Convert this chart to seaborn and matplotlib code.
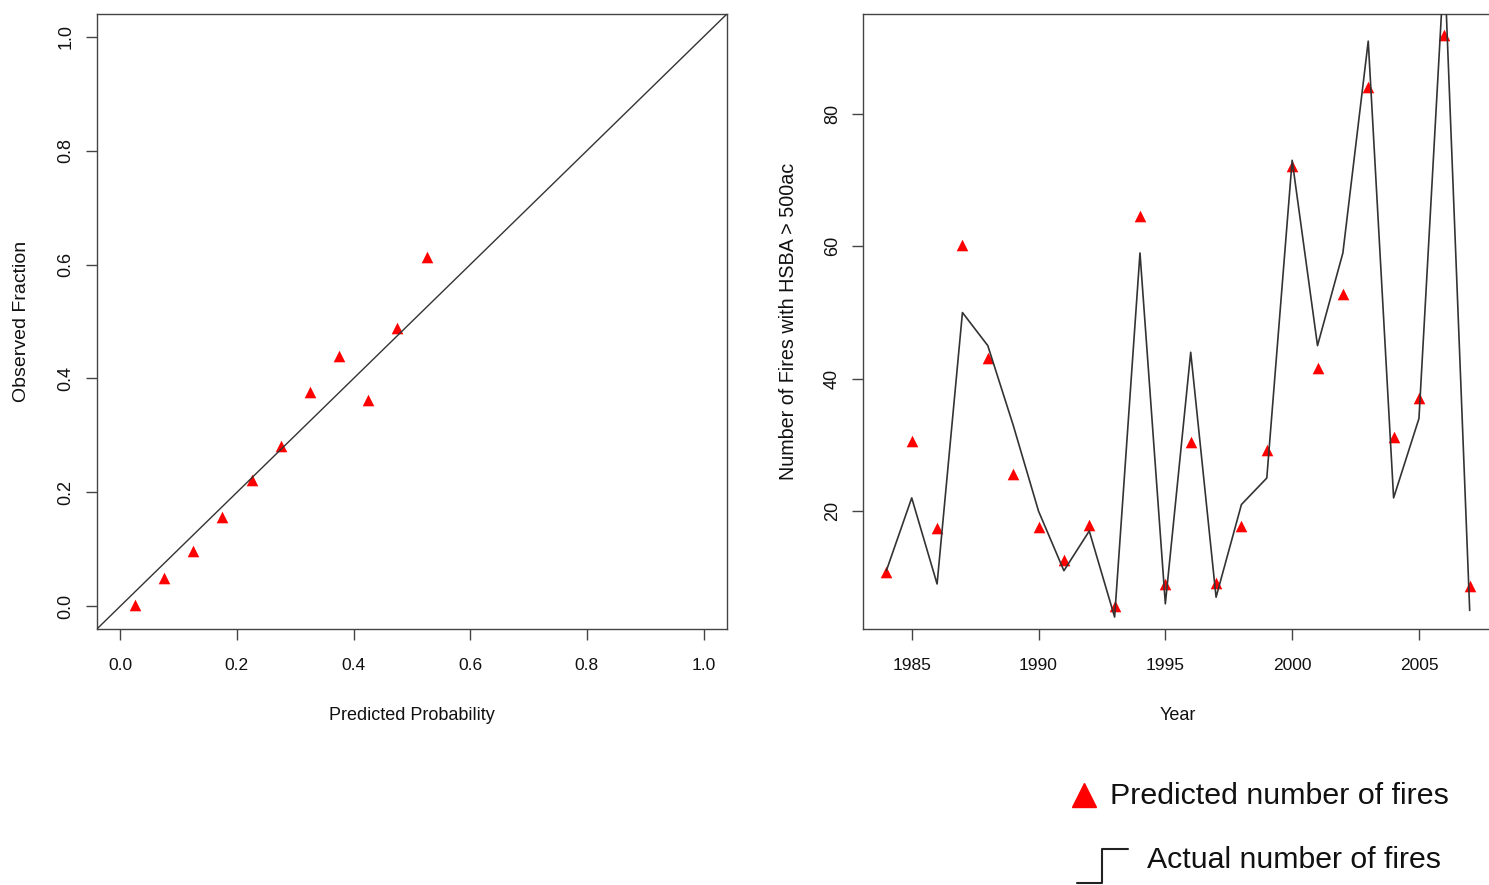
import seaborn as sns
import matplotlib.pyplot as plt
from matplotlib.lines import Line2D

# Left panel: calibration
pred_prob = [0.025, 0.075, 0.125, 0.175, 0.225, 0.275, 0.325, 0.375, 0.425, 0.475, 0.525]
obs_frac = [0.002, 0.049, 0.097, 0.156, 0.221, 0.281, 0.376, 0.439, 0.362, 0.489, 0.613]

# Right panel: fires per year
years = list(range(1984, 2008))
actual_fires = [11, 22, 9, 50, 45, 33, 20, 11, 17, 4, 59, 6,
                44, 7, 21, 25, 73, 45, 59, 91, 22, 34, 103, 5]
predicted_fires = [10.8, 30.6, 17.4, 60.2, 43.1, 25.6, 17.6, 12.6, 17.9, 5.7, 64.6, 9.0,
                   30.4, 9.1, 17.7, 29.2, 72.1, 41.6, 52.8, 84.1, 31.2, 37.1, 91.9, 8.7]

x_ticks_left = [0.0, 0.2, 0.4, 0.6, 0.8, 1.0]
y_ticks_right = [20, 40, 60, 80]
x_ticks_right = [1985, 1990, 1995, 2000, 2005]

sns.set_style("white")
plt.rcParams['font.family'] = ['Liberation Sans', 'DejaVu Sans']

fig = plt.figure(figsize=(14.89, 8.85), dpi=100)
ax1 = fig.add_axes([0.0651, 0.2893, 0.4231, 0.6949])
ax2 = fig.add_axes([0.5796, 0.2893, 0.4231, 0.6949])

edge = '#444444'
for ax in (ax1, ax2):
    for s in ax.spines.values():
        s.set_color(edge)
        s.set_linewidth(1.0)
    ax.tick_params(axis='both', length=8, width=1, color=edge, labelsize=12.5,
                   labelcolor='#111111', direction='out', bottom=True, left=True)
    ax.tick_params(axis='x', pad=13)
    ax.tick_params(axis='y', pad=8, labelrotation=90)

# calibration plot
sns.scatterplot(x=pred_prob, y=obs_frac, ax=ax1, marker='^', color='red',
                s=70, linewidth=0, zorder=2)
ax1.axline((0, 0), slope=1, color='#333333', lw=1.0, zorder=3)
ax1.set_xlim(-0.04, 1.04)
ax1.set_ylim(-0.04, 1.04)
ax1.set_xticks(x_ticks_left)
ax1.set_yticks(x_ticks_left)
ax1.set_xticklabels([f"{v:.1f}" for v in x_ticks_left])
ax1.set_yticklabels([f"{v:.1f}" for v in x_ticks_left], va='center', fontsize=13)
ax1.set_xlabel("Predicted Probability", fontsize=13, color='#111111')
ax1.set_ylabel("Observed Fraction", fontsize=14, color='#111111')
ax1.xaxis.set_label_coords(0.5, -0.127)
ax1.yaxis.set_label_coords(-0.106, 0.5)

# fires per year
sns.scatterplot(x=years, y=predicted_fires, ax=ax2, marker='^', color='red',
                s=70, linewidth=0, zorder=2)
sns.lineplot(x=years, y=actual_fires, ax=ax2, color='#333333', lw=1.2, zorder=3)
ax2.set_xlim(1983.08, 2007.92)
ax2.set_ylim(2.2, 95.1)
ax2.set_xticks(x_ticks_right)
ax2.set_yticks(y_ticks_right)
ax2.set_yticklabels([str(v) for v in y_ticks_right], va='center', fontsize=13)
ax2.set_xlabel("Year", fontsize=13, color='#111111')
ax2.set_ylabel("Number of Fires with HSBA > 500ac", fontsize=14.2, color='#111111')
ax2.xaxis.set_label_coords(0.5, -0.127)
ax2.yaxis.set_label_coords(-0.104, 0.5)

# hand-made legend below the right panel
fig.add_artist(Line2D([0.728], [0.102], marker='^', color='red', markersize=17,
                      linestyle='none', transform=fig.transFigure))
fig.text(0.7455, 0.1005, "Predicted number of fires", fontsize=21.9, va='center', ha='left',
         color='#111111')
fig.add_artist(Line2D([0.7233, 0.7401, 0.7401, 0.7576], [0.0023, 0.0023, 0.0407, 0.0407],
                      color='#222222', lw=1.5, transform=fig.transFigure))
fig.text(0.7703, 0.0283, "Actual number of fires", fontsize=21.8, va='center', ha='left',
         color='#111111')

fig.savefig("out.png", dpi=100)
